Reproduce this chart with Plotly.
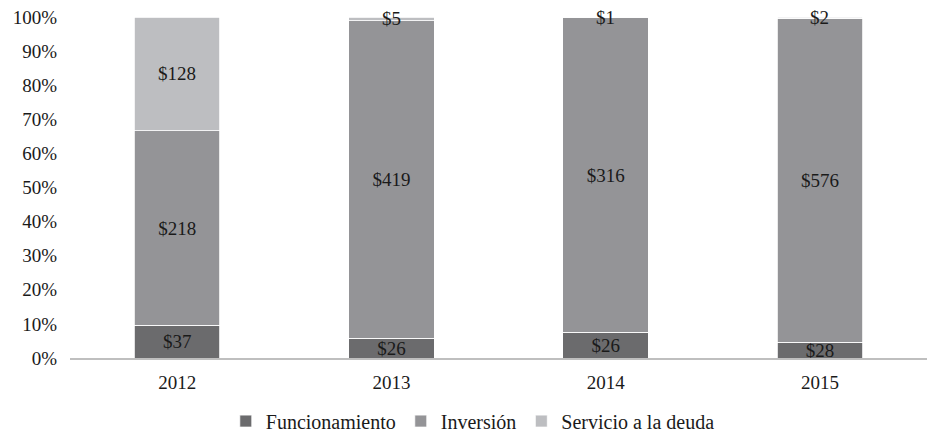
import plotly.graph_objects as go

years = ["2012", "2013", "2014", "2015"]
funcionamiento = [37, 26, 26, 28]
inversion = [218, 419, 316, 576]
servicio_deuda = [128, 5, 1, 2]

series = [
    ("Funcionamiento", funcionamiento, "#6b6b6d"),
    ("Inversión", inversion, "#949497"),
    ("Servicio a la deuda", servicio_deuda, "#bdbec1"),
]

FONT = "Liberation Serif"
TXT = "#1a1a1a"

fig = go.Figure()
for name, vals, color in series:
    is_top = name == "Servicio a la deuda"
    fig.add_trace(go.Bar(
        x=years, y=vals, name=name,
        marker=dict(color=color, line=dict(color="#ffffff", width=0.8)),
        text=None if is_top else [f"${v}" for v in vals],
        textposition="none" if is_top else "inside",
        insidetextanchor="middle",
        textangle=0,
        textfont=dict(family=FONT, size=19, color=TXT),
    ))

# Labels for the top segment, placed at each segment's midpoint (in percent)
# so that even the very thin slices keep their value visible.
for i, yr in enumerate(years):
    total = funcionamiento[i] + inversion[i] + servicio_deuda[i]
    base = 100 * (funcionamiento[i] + inversion[i]) / total
    mid = base + 50 * servicio_deuda[i] / total
    fig.add_annotation(
        x=i, y=mid, text=f"${servicio_deuda[i]}", showarrow=False,
        font=dict(family=FONT, size=19, color=TXT),
    )

fig.update_layout(
    barmode="stack",
    barnorm="percent",
    bargap=0.6,
    width=927, height=435,
    margin=dict(l=70, r=0, t=17, b=77),
    plot_bgcolor="white", paper_bgcolor="white",
    font=dict(family=FONT, size=19, color=TXT),
    uniformtext=dict(minsize=19, mode="show"),
    showlegend=True,
    legend=dict(
        orientation="h", x=0.47, xanchor="center",
        yref="container", y=0.032, yanchor="middle",
        font=dict(family=FONT, size=20, color=TXT),
        itemwidth=30, traceorder="normal",
    ),
    xaxis=dict(
        type="category",
        showline=True, linecolor="#bfbfbf", linewidth=1.5,
        ticks="", showgrid=False, tickfont=dict(size=19),
        ticklabelstandoff=6,
    ),
    yaxis=dict(
        range=[0, 100], dtick=10, ticksuffix="%",
        showgrid=False, zeroline=False, showline=False,
        ticks="", ticklabelstandoff=12, tickfont=dict(size=19),
    ),
)

fig.write_html("out.html")
